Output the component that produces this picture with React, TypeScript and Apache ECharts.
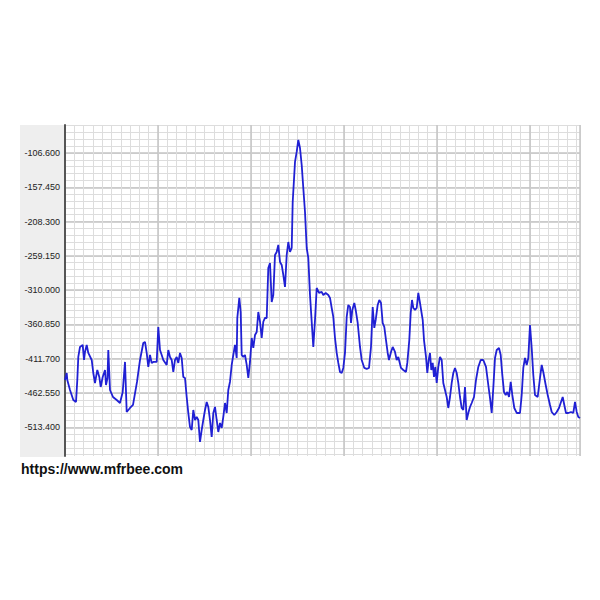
import React, { useEffect, useRef } from "react";
import * as echarts from "echarts";

// y-axis major tick labels (as printed)
const yTickLabels = ["-106.600", "-157.450", "-208.300", "-259.150", "-310.000", "-360.850", "-411.700", "-462.550", "-513.400"];
const yMin = -556.0;
const yMax = -65.1;
const xMin = 0;
const xMax = 515;
const xMinorStep = 9.3;
const xMajorStep = 93;

const sampleX = [
  0, 1.7, 2.3, 5, 8.3, 11, 12.3, 13.3, 15, 17.7, 19, 20, 21.7, 23.3, 26.7, 28.3, 30, 32.3, 34.3, 35.7,
  37.7, 40, 41, 42.5, 43.3, 45, 48, 51.7, 55, 57.7, 60, 61.7, 65, 68, 72, 75, 78.3, 80, 81.7, 83.3,
  85, 86.7, 88.3, 91.7, 93.3, 95, 96.7, 98.3, 101.7, 103.3, 105, 106.7, 108.3, 110, 111.7, 113.3, 115, 116.7, 118.3, 120,
  121.7, 123.3, 125, 126.7, 128.3, 130, 131.7, 133.3, 135, 136.7, 138.3, 140, 141.7, 143.3, 145, 146.7, 148.3, 150, 151.7, 153.3,
  155, 156.7, 158.3, 160, 161.7, 163.3, 165, 166.7, 168.3, 170, 171.7, 172.3, 174.3, 175.7, 176.7, 178.3, 180, 181.7, 183.3, 185,
  186.7, 188.3, 190, 191.7, 193.3, 195, 196.7, 198.3, 200, 201.7, 203.3, 205, 206.7, 208.3, 210, 211.7, 213.3, 215, 216.7, 218.3,
  220, 221.7, 223.3, 225, 226.7, 227.7, 230, 231.7, 233.3, 235, 236.7, 238.3, 240, 241.7, 243.3, 245, 246.7, 248.3, 250, 251.7,
  254, 256.7, 258.3, 260.7, 263.3, 265, 266.7, 268.3, 270, 271.7, 273.3, 275, 276.7, 278.3, 280, 281.7, 283.3, 285, 286, 287.3,
  289.3, 290.7, 292.7, 295, 296.7, 299.3, 301.7, 304, 306, 307.7, 309.3, 310.7, 312.7, 314.3, 316, 317.7, 319.3, 321, 322.7, 324,
  326, 327.7, 330, 331.7, 333.3, 336, 338.3, 341, 342.3, 344.3, 345.7, 347, 348.3, 350, 351.7, 353.3, 355, 357.7, 359, 361,
  362.3, 363.7, 365, 366.3, 367.7, 369, 370.3, 371.7, 373.3, 375, 376.7, 378.3, 380, 381.7, 383.3, 385, 386.7, 388.3, 390, 391.7,
  393.3, 395, 396.7, 398.3, 400, 401.7, 403.3, 405, 406.7, 409, 411, 413.3, 415.7, 418.3, 421, 423.3, 425, 426.7, 428.3, 430,
  431.7, 434, 435.7, 437.3, 439, 440.7, 442.3, 444, 445.7, 447.3, 449.3, 451.7, 455, 456.7, 458.3, 460, 461.7, 463.3, 465, 466.7,
  468.3, 470, 472.7, 475, 476.7, 478.3, 480.7, 482.7, 485, 486.7, 489.3, 491.7, 494, 496, 497.7, 499.3, 501, 503.3, 506, 508.3,
  510, 511.7, 513.3, 515,
];
const sampleY = [
  -443.2, -432.9, -443.2, -458.1, -472.9, -475.9, -443.2, -409.1, -394.3, -391.3, -413.6, -401.7, -391.3, -403.2, -413.6, -432.9, -447.7, -428.4, -438.8, -453.6,
  -438.8, -428.4, -450.7, -440.3, -398.8, -458.1, -468.5, -472.9, -477.4, -461.0, -416.5, -490.7, -484.8, -480.3, -446.2, -413.6, -388.4, -386.9, -403.2, -423.9,
  -406.2, -418.0, -416.5, -416.5, -364.6, -398.8, -406.2, -413.6, -421.0, -398.8, -409.1, -413.6, -431.4, -413.6, -409.1, -418.0, -403.2, -410.6, -438.8, -440.3,
  -468.5, -492.2, -513.0, -517.4, -487.8, -502.6, -498.1, -502.6, -535.2, -517.4, -502.6, -487.8, -475.9, -483.3, -502.6, -527.8, -492.2, -483.3, -502.6, -520.4,
  -507.1, -514.4, -498.1, -477.4, -492.2, -458.1, -445.8, -421.0, -406.2, -391.3, -410.6, -351.3, -321.6, -342.4, -406.2, -409.1, -406.2, -421.0, -440.3, -416.5,
  -381.0, -395.8, -376.6, -372.1, -342.4, -356.9, -381.0, -356.9, -351.3, -351.3, -277.1, -269.7, -327.6, -317.2, -257.9, -253.4, -243.0, -268.2, -272.7, -287.5,
  -305.3, -257.9, -238.6, -253.4, -247.5, -179.3, -119.9, -105.1, -87.3, -99.2, -124.4, -158.5, -194.1, -247.5, -262.3, -317.2, -356.9, -394.3, -354.2, -306.8,
  -314.2, -312.7, -317.2, -314.2, -317.2, -321.6, -336.5, -349.8, -381.0, -403.2, -418.0, -431.4, -432.9, -425.4, -403.2, -349.8, -332.0, -335.0, -358.7, -339.4,
  -329.1, -339.4, -358.7, -394.3, -413.6, -425.4, -426.9, -425.4, -394.3, -335.0, -366.1, -354.2, -332.0, -324.6, -329.1, -358.7, -364.6, -384.0, -403.2, -413.6,
  -401.7, -394.3, -401.7, -413.6, -409.1, -425.4, -428.4, -431.4, -418.0, -384.0, -343.9, -324.6, -336.5, -339.4, -336.5, -314.2, -329.1, -354.2, -384.0, -409.1,
  -432.9, -413.6, -403.2, -428.4, -418.0, -438.8, -423.9, -447.7, -423.9, -409.1, -413.6, -447.7, -458.1, -468.5, -484.8, -468.5, -447.7, -432.9, -425.4, -432.9,
  -447.7, -468.5, -484.8, -487.8, -453.6, -502.6, -492.2, -483.3, -477.4, -468.5, -443.3, -423.9, -413.6, -413.6, -423.9, -450.7, -469.9, -492.2, -455.1, -410.6,
  -398.8, -395.8, -406.2, -435.8, -461.0, -465.5, -461.0, -468.5, -446.2, -465.5, -484.8, -492.2, -492.2, -465.5, -425.4, -410.6, -421.0, -410.6, -361.7, -395.8,
  -435.8, -465.5, -468.5, -440.3, -421.0, -431.4, -450.7, -465.5, -480.3, -490.7, -495.2, -490.7, -484.8, -475.9, -468.5, -480.3, -492.2, -492.2, -490.7, -492.2,
  -475.9, -490.7, -498.1, -499.6,
];

export default function App() {
  const ref = useRef<HTMLDivElement>(null);

  useEffect(() => {
    if (!ref.current) return;
    const chart = echarts.init(ref.current, null, { renderer: "svg" });

    const majorVals = yTickLabels.map((s) => parseFloat(s));
    const yStep = majorVals[0] - majorVals[1];
    const minorStep = yStep / 5;
    const minorVals: number[] = [];
    const topMajor = majorVals[0];
    for (let k = -60; k <= 60; k++) {
      const v = topMajor - k * minorStep;
      if (v > yMin && v < yMax) minorVals.push(Number(v.toFixed(3)));
    }

    const data = sampleX.map((x, i) => [x, sampleY[i]]);

    chart.setOption({
      animation: false,
      backgroundColor: "#ffffff",
      title: {
        text: "https://www.mfrbee.com",
        left: 16,
        top: 457,
        textStyle: { fontFamily: "Liberation Sans", fontWeight: "bold", fontSize: 14, color: "#111" },
      },
      graphic: [
        {
          type: "rect",
          left: 20,
          top: 125,
          shape: { width: 44, height: 332 },
          style: { fill: "#eeeeee" },
          z: -10,
          silent: true,
        },
      ],
      grid: { left: 65, right: 20, top: 125, bottom: 144, containLabel: false },
      xAxis: [
        {
          type: "value",
          position: "bottom",
          min: xMin,
          max: xMax,
          interval: xMinorStep,
          axisLine: { show: false },
          axisTick: { show: false },
          axisLabel: { show: false },
          splitLine: { show: true, lineStyle: { color: "#dddddd", width: 1 } },
        },
        {
          type: "value",
          position: "bottom",
          min: xMin,
          max: xMax,
          interval: xMajorStep,
          axisLine: { show: false },
          axisTick: { show: false },
          axisLabel: { show: false },
          splitLine: { show: true, lineStyle: { color: "#c4c4c4", width: 1.5 } },
        },
      ],
      yAxis: [
        {
          type: "value",
          position: "left",
          min: yMin,
          max: yMax,
          axisLine: { show: false },
          axisTick: { show: false, customValues: minorVals },
          axisLabel: { show: false },
          splitLine: { show: true, lineStyle: { color: "#dddddd", width: 1 } },
        },
        {
          type: "value",
          position: "left",
          min: yMin,
          max: yMax,
          axisLine: { show: true, lineStyle: { color: "#555555", width: 2 } },
          axisTick: { show: false, customValues: majorVals },
          axisLabel: {
            show: true,
            customValues: majorVals,
            margin: 5,
            fontFamily: "Liberation Sans",
            fontSize: 9,
            color: "#222",
            formatter: (v: number) => {
              const idx = majorVals.findIndex((m) => Math.abs(m - v) < 0.01);
              return idx >= 0 ? yTickLabels[idx] : "";
            },
          },
          splitLine: { show: true, lineStyle: { color: "#c4c4c4", width: 1.5 } },
        },
      ],
      series: [
        {
          type: "line",
          xAxisIndex: 0,
          yAxisIndex: 0,
          data,
          showSymbol: false,
          symbol: "none",
          lineStyle: { color: "#2020d4", width: 1.8 },
          z: 5,
        },
      ],
    });

    return () => chart.dispose();
  }, []);

  return (
    <div
      ref={ref}
      style={{ position: "fixed", left: 0, top: 0, width: 600, height: 600, background: "#fff" }}
    />
  );
}
